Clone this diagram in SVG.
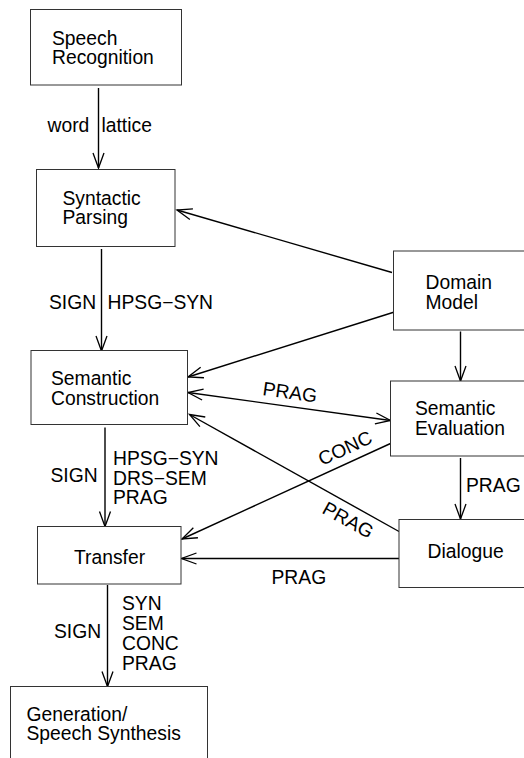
<svg xmlns="http://www.w3.org/2000/svg" width="524" height="758" viewBox="0 0 524 758">
  <style>
    .box { fill: #fff; stroke: #333; stroke-width: 1; }
    .lbl { font-family: "Liberation Sans", Arial, Helvetica, sans-serif; font-size: 19.3px; fill: #000; }
    .edge { fill: none; stroke: #000; stroke-width: 1.4; }
  </style>
  <defs>
    <marker id="head" markerUnits="userSpaceOnUse" markerWidth="20" markerHeight="14" viewBox="-16 -7 18 14" refX="0" refY="0" orient="auto-start-reverse">
      <path d="M-15,-5.5 L0,0 L-15,5.5" fill="none" stroke="#000" stroke-width="1.3"/>
    </marker>
  </defs>
  <rect width="524" height="758" fill="#fff"/>

  <!-- connectors -->
  <g id="connectors">
    <line class="edge" x1="98.5" y1="88" x2="98.5" y2="168" marker-end="url(#head)"/>
    <line class="edge" x1="392" y1="272.5" x2="177" y2="210" marker-end="url(#head)"/>
    <line class="edge" x1="101.5" y1="249" x2="101.5" y2="351" marker-end="url(#head)"/>
    <line class="edge" x1="396" y1="311.5" x2="188" y2="377" marker-end="url(#head)"/>
    <line class="edge" x1="460.5" y1="331.5" x2="460.5" y2="381" marker-end="url(#head)"/>
    <line class="edge" x1="188" y1="392.5" x2="390.5" y2="420.5" marker-start="url(#head)" marker-end="url(#head)"/>
    <line class="edge" x1="399" y1="531.5" x2="189.5" y2="414.5" marker-end="url(#head)"/>
    <line class="edge" x1="390.5" y1="443.5" x2="182" y2="539" marker-end="url(#head)"/>
    <line class="edge" x1="460.5" y1="458" x2="460.5" y2="519" marker-end="url(#head)"/>
    <line class="edge" x1="105" y1="427.5" x2="105" y2="526.5" marker-end="url(#head)"/>
    <line class="edge" x1="401.5" y1="558.5" x2="181.5" y2="558.5" marker-end="url(#head)"/>
    <line class="edge" x1="107.5" y1="585" x2="107.5" y2="686.5" marker-end="url(#head)"/>

    <!-- edge labels -->
    <text class="lbl" y="131.5"><tspan x="47.5">word</tspan><tspan x="101.5">lattice</tspan></text>
    <text class="lbl" x="49" y="308.5">SIGN</text>
    <text class="lbl" x="107.5" y="308.5">HPSG−SYN</text>
    <text class="lbl" transform="translate(262,395) rotate(7.9)">PRAG</text>
    <text class="lbl" x="50.5" y="481.5">SIGN</text>
    <text class="lbl" x="113" y="465">HPSG−SYN</text>
    <text class="lbl" x="113" y="484.5">DRS−SEM</text>
    <text class="lbl" x="113" y="504">PRAG</text>
    <text class="lbl" transform="translate(322,466) rotate(-24.7)">CONC</text>
    <text class="lbl" transform="translate(321,512.5) rotate(29)">PRAG</text>
    <text class="lbl" x="466" y="491.5">PRAG</text>
    <text class="lbl" x="271.5" y="583.5">PRAG</text>
    <text class="lbl" x="54" y="637.5">SIGN</text>
    <text class="lbl" x="122" y="610">SYN</text>
    <text class="lbl" x="122" y="630">SEM</text>
    <text class="lbl" x="122" y="649.5">CONC</text>
    <text class="lbl" x="122" y="669.5">PRAG</text>
  </g>

  <!-- nodes -->
  <g id="speech-recognition">
    <rect class="box" x="30.5" y="9.5" width="151" height="75.5"/>
    <text class="lbl" x="52" y="44.5">Speech</text>
    <text class="lbl" x="52" y="64">Recognition</text>
  </g>
  <g id="syntactic-parsing">
    <rect class="box" x="36.5" y="169.5" width="138.5" height="77"/>
    <text class="lbl" x="62.5" y="205">Syntactic</text>
    <text class="lbl" x="62.5" y="224">Parsing</text>
  </g>
  <g id="domain-model">
    <rect class="box" x="393.5" y="251" width="150" height="79"/>
    <text class="lbl" x="425.5" y="288.5">Domain</text>
    <text class="lbl" x="425.5" y="308.5">Model</text>
  </g>
  <g id="semantic-construction">
    <rect class="box" x="31" y="350.5" width="156.5" height="74"/>
    <text class="lbl" x="51" y="385">Semantic</text>
    <text class="lbl" x="51" y="405">Construction</text>
  </g>
  <g id="semantic-evaluation">
    <rect class="box" x="390.5" y="381" width="150" height="75"/>
    <text class="lbl" x="415" y="415">Semantic</text>
    <text class="lbl" x="415" y="435">Evaluation</text>
  </g>
  <g id="transfer">
    <rect class="box" x="37.5" y="526.5" width="143.5" height="57.5"/>
    <text class="lbl" x="74" y="563.5">Transfer</text>
  </g>
  <g id="dialogue">
    <rect class="box" x="399" y="519.5" width="150" height="68"/>
    <text class="lbl" x="427.5" y="557.5">Dialogue</text>
  </g>
  <g id="generation">
    <rect class="box" x="10.5" y="686.5" width="197" height="90"/>
    <text class="lbl" x="26.5" y="720.5">Generation/</text>
    <text class="lbl" x="26.5" y="739.5">Speech Synthesis</text>
  </g>
</svg>
